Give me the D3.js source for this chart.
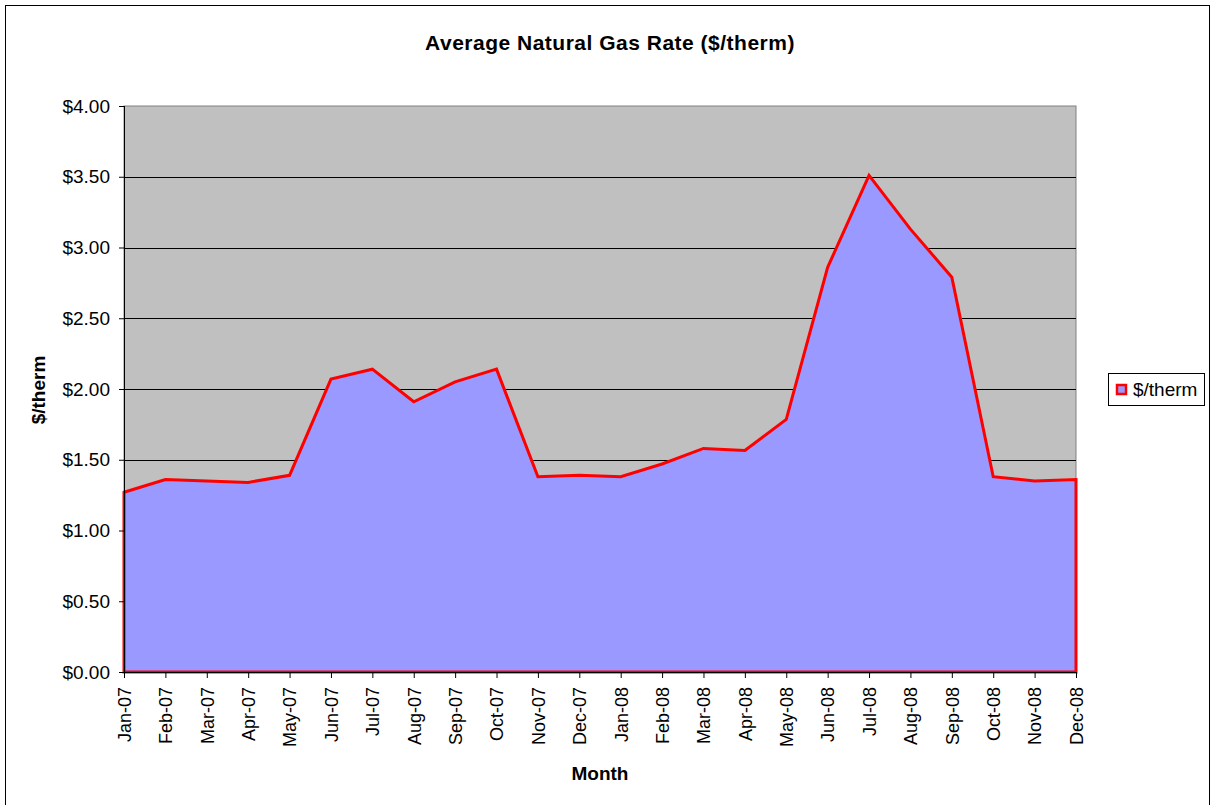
<!DOCTYPE html>
<html>
<head>
<meta charset="utf-8">
<script src="https://cdn.jsdelivr.net/npm/d3@7/dist/d3.min.js"></script>
<style>
body { margin: 0; background: #fff; }
svg { font-family: Arial, "Liberation Sans", sans-serif; }
</style>
</head>
<body>
<svg width="1213" height="805"></svg>
<script>
// months and the average rate for each month ($/therm)
var months = ["Jan-07", "Feb-07", "Mar-07", "Apr-07", "May-07", "Jun-07", "Jul-07", "Aug-07",
    "Sep-07", "Oct-07", "Nov-07", "Dec-07", "Jan-08", "Feb-08", "Mar-08", "Apr-08",
    "May-08", "Jun-08", "Jul-08", "Aug-08", "Sep-08", "Oct-08", "Nov-08", "Dec-08"];
var rates = [1.27, 1.36, 1.35, 1.34, 1.39, 2.07, 2.14, 1.91, 2.05, 2.14, 1.38, 1.39,
    1.38, 1.47, 1.58, 1.565, 1.785, 2.86, 3.51, 3.13, 2.79, 1.38, 1.35, 1.36];
var yTicks = [0, 0.5, 1, 1.5, 2, 2.5, 3, 3.5, 4];

var svg = d3.select("svg");

// plot area edges (note: "top" is taken by window.top)
var pLeft = 124, pRight = 1076, pTop = 106, pBottom = 672;
var font = "Arial, 'Liberation Sans', sans-serif";

var data = months.map(function (m, i) { return { month: m, rate: rates[i] }; });

var x = d3.scalePoint()
    .domain(months)
    .range([pLeft, pRight]);

var y = d3.scaleLinear()
    .domain([0, 4])
    .range([pBottom, pTop]);

// outer frame
svg.append("rect")
    .attr("x", 5.5).attr("y", 5.5)
    .attr("width", 1204).attr("height", 800)
    .attr("fill", "#fff")
    .attr("stroke", "#000")
    .attr("stroke-width", 1);

// plot background
svg.append("rect")
    .attr("x", pLeft).attr("y", pTop)
    .attr("width", pRight - pLeft).attr("height", pBottom - pTop)
    .attr("fill", "#c0c0c0")
    .attr("stroke", "#808080")
    .attr("stroke-width", 1);

// gridlines
svg.append("g")
    .selectAll("line")
    .data(yTicks.filter(function (d) { return d > 0 && d < 4; }))
    .enter().append("line")
    .attr("x1", pLeft).attr("x2", pRight)
    .attr("y1", function (d) { return Math.round(y(d)) + 0.5; })
    .attr("y2", function (d) { return Math.round(y(d)) + 0.5; })
    .attr("stroke", "#000")
    .attr("stroke-width", 1);

// the area, outlined in red all round
var area = d3.area()
    .x(function (d) { return x(d.month); })
    .y0(y(0))
    .y1(function (d) { return y(d.rate); });

svg.append("path")
    .datum(data)
    .attr("d", function (d) { return area(d) + "Z"; })
    .attr("fill", "#9999ff")
    .attr("stroke", "#ff0000")
    .attr("stroke-width", 3)
    .attr("stroke-linejoin", "miter");

// y axis
var yAxis = d3.axisLeft(y)
    .tickValues(yTicks)
    .tickFormat(function (d) { return "$" + d.toFixed(2); })
    .tickSize(5)
    .tickPadding(9);

var gY = svg.append("g")
    .attr("transform", "translate(" + pLeft + ",0)")
    .call(yAxis);
gY.select(".domain").attr("stroke", "#000").attr("d", "M0.5," + pTop + "V" + pBottom);
gY.selectAll("text").attr("font-size", "19px").attr("font-family", font).attr("fill", "#000");

// x axis
var xAxis = d3.axisBottom(x)
    .tickSize(6)
    .tickPadding(0);

var gX = svg.append("g")
    .attr("transform", "translate(0," + pBottom + ")")
    .call(xAxis);
gX.select(".domain").attr("stroke", "#000").attr("d", "M" + pLeft + ",0.5H" + pRight);
gX.selectAll("text")
    .attr("font-size", "18px")
    .attr("font-family", font)
    .attr("fill", "#000")
    .attr("text-anchor", "end")
    .attr("transform", "rotate(-90)")
    .attr("x", -15)
    .attr("y", 0)
    .attr("dy", "0.35em");

// title
svg.append("text")
    .attr("x", 610).attr("y", 50)
    .attr("text-anchor", "middle")
    .attr("font-size", "21px")
    .attr("font-weight", "bold")
    .attr("letter-spacing", "0.5px")
    .text("Average Natural Gas Rate ($/therm)");

// axis titles
svg.append("text")
    .attr("x", 600).attr("y", 780)
    .attr("text-anchor", "middle")
    .attr("font-size", "19px")
    .attr("font-weight", "bold")
    .text("Month");

svg.append("text")
    .attr("transform", "translate(45,390) rotate(-90)")
    .attr("text-anchor", "middle")
    .attr("font-size", "19px")
    .attr("font-weight", "bold")
    .text("$/therm");

// legend
var legend = svg.append("g");
legend.append("rect")
    .attr("x", 1108.5).attr("y", 373.5)
    .attr("width", 96).attr("height", 32)
    .attr("fill", "#fff")
    .attr("stroke", "#000")
    .attr("stroke-width", 1);
legend.append("rect")
    .attr("x", 1117).attr("y", 385)
    .attr("width", 9).attr("height", 9)
    .attr("fill", "#9999ff")
    .attr("stroke", "#ff0000")
    .attr("stroke-width", 2.5);
legend.append("text")
    .attr("x", 1133).attr("y", 396)
    .attr("font-size", "19px")
    .text("$/therm");
</script>
</body>
</html>
